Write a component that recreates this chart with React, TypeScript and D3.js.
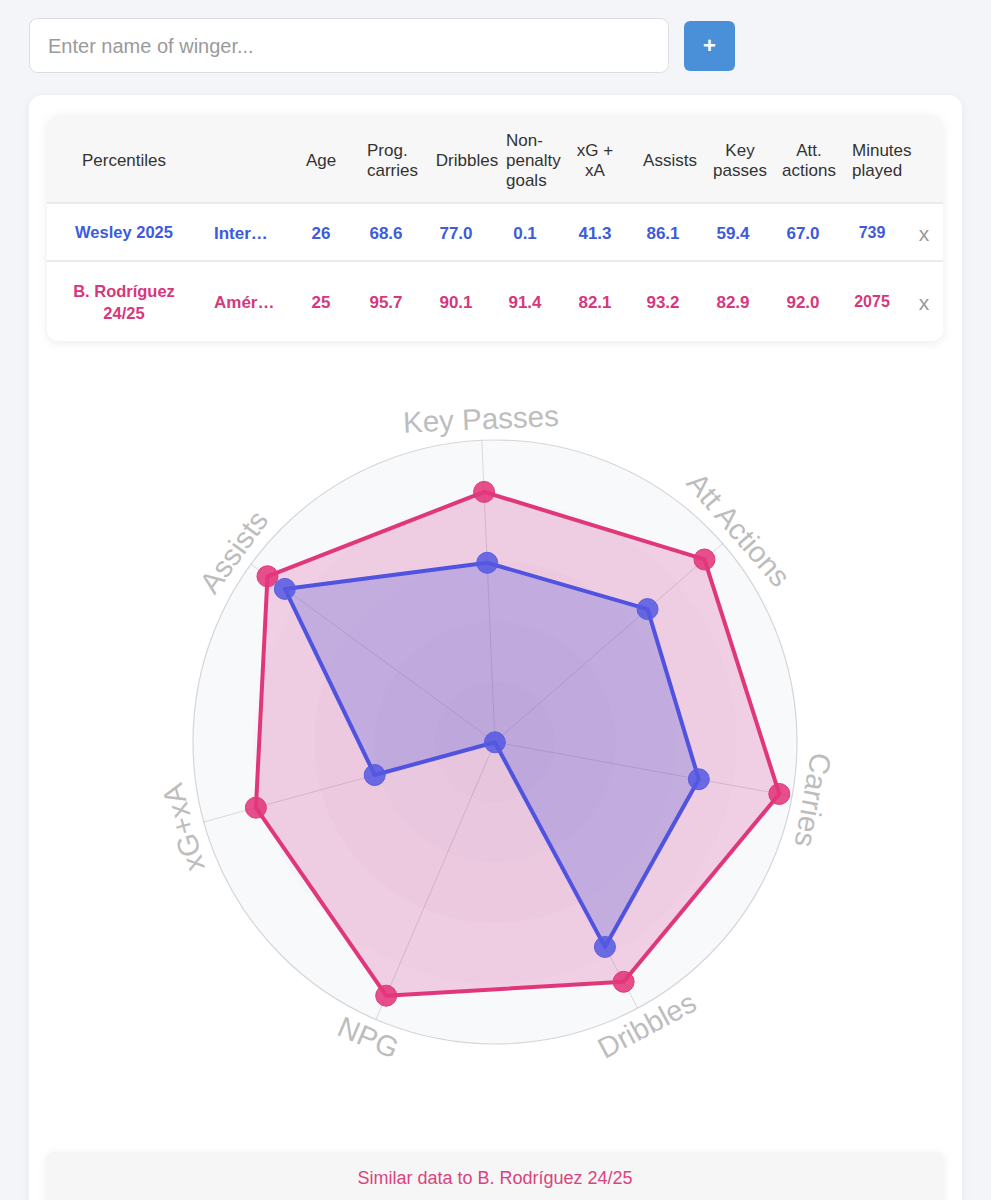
import React from "react";
import * as d3 from "d3";

// ---------- data ----------
const radarAxes = ["Key Passes", "Att Actions", "Carries", "Dribbles", "NPG", "xG+xA", "Assists"];
const wesleyRadar = [59.4, 67.0, 68.6, 77.0, 0.1, 41.3, 86.1];
const rodriguezRadar = [82.9, 92.0, 95.7, 90.1, 91.4, 82.1, 93.2];

const headerLines = [
  ["Percentiles"],
  [],
  ["Age"],
  ["Prog.", "carries"],
  ["Dribbles"],
  ["Non-", "penalty", "goals"],
  ["xG +", "xA"],
  ["Assists"],
  ["Key", "passes"],
  ["Att.", "actions"],
  ["Minutes", "played"],
];

const wesleyRow = { name: ["Wesley 2025"], team: "Inter…", age: "26", minutes: "739" };
const wesleyValues = ["68.6", "77.0", "0.1", "41.3", "86.1", "59.4", "67.0"];
const rodriguezRow = { name: ["B. Rodríguez", "24/25"], team: "Amér…", age: "25", minutes: "2075" };
const rodriguezValues = ["95.7", "90.1", "91.4", "82.1", "93.2", "82.9", "92.0"];

const placeholderText = "Enter name of winger...";
const similarText = "Similar data to B. Rodríguez 24/25";

// ---------- layout ----------
const W = 991;
const H = 1200;
const FONT = "'Liberation Sans', Arial, Helvetica, sans-serif";
const BLUE = "#3d5bdc";
const PINK = "#d6387b";

const headerX = [124, 0, 321, 367, 467, 506, 595, 670, 740, 809, 852];
const headerAnchor = ["middle", "middle", "middle", "start", "middle", "start", "middle", "middle", "middle", "middle", "start"];
const valueX = [386, 456, 525, 595, 663, 733, 803];

const cx = 495;
const cy = 742;
const R = 302;
const rotationDeg = -2.5;

export default function App() {
  const n = radarAxes.length;
  const r = d3.scaleLinear().domain([0, 100]).range([0, R]);
  const angle = d3
    .scaleLinear()
    .domain([0, n])
    .range([(rotationDeg * Math.PI) / 180, (rotationDeg * Math.PI) / 180 + 2 * Math.PI]);

  const radial = d3
    .lineRadial<number>()
    .angle((_d, i) => angle(i))
    .radius((d) => r(d))
    .curve(d3.curveLinearClosed);

  const pt = (v: number, i: number) => {
    const a = angle(i);
    return [r(v) * Math.sin(a), -r(v) * Math.cos(a)];
  };

  const rings = [60, 120, 180, 240].map((v) => (v / 300) * 100);

  const headerBase = (count: number) => {
    if (count === 1) return [166];
    if (count === 2) return [156, 176];
    return [146, 166, 186];
  };

  const renderRow = (row: any, values: string[], color: string, baseY: number, nameYs: number[]) => (
    <g fontFamily={FONT} fontWeight="bold" fill={color}>
      {row.name.map((t: string, i: number) => (
        <text key={i} x={124} y={nameYs[i]} textAnchor="middle" fontSize={16.5}>
          {t}
        </text>
      ))}
      <text x={214} y={baseY} fontSize={17}>
        {row.team}
      </text>
      <text x={321} y={baseY} textAnchor="middle" fontSize={17}>
        {row.age}
      </text>
      {values.map((v, i) => (
        <text key={i} x={valueX[i]} y={baseY} textAnchor="middle" fontSize={17}>
          {v}
        </text>
      ))}
      <text x={872} y={baseY - 1} textAnchor="middle" fontSize={16}>
        {row.minutes}
      </text>
      <text x={924} y={baseY + 2} textAnchor="middle" fontSize={21} fontWeight="normal" fill="#999">
        x
      </text>
    </g>
  );

  return (
    <svg
      width={W}
      height={H}
      viewBox={`0 0 ${W} ${H}`}
      style={{ position: "absolute", left: 0, top: 0, display: "block" }}
    >
      <defs>
        <filter id="cardShadow" x="-5%" y="-5%" width="110%" height="120%">
          <feDropShadow dx="0" dy="2" stdDeviation="4" floodColor="#000" floodOpacity="0.06" />
        </filter>
        <filter id="tableShadow" x="-5%" y="-10%" width="110%" height="130%">
          <feDropShadow dx="0" dy="2" stdDeviation="5" floodColor="#000" floodOpacity="0.08" />
        </filter>
        <clipPath id="tableClip">
          <rect x={47} y={115} width={896} height={226} rx={12} />
        </clipPath>
      </defs>

      <rect x={0} y={0} width={W} height={H} fill="#f4f5f9" />

      {/* input */}
      <rect x={29.5} y={18.5} width={639} height={54} rx={8} fill="#fff" stroke="#dcdde0" />
      <text x={48} y={53} fontFamily={FONT} fontSize={20} fill="#9a9a9a">
        {placeholderText}
      </text>
      <rect x={684} y={21} width={51} height={50} rx={6} fill="#4a90d9" />
      <text x={709.5} y={53} textAnchor="middle" fontFamily={FONT} fontSize={22} fontWeight="bold" fill="#fff">
        +
      </text>

      {/* main card */}
      <rect x={29} y={95} width={933} height={1150} rx={14} fill="#fff" filter="url(#cardShadow)" />

      {/* table card */}
      <rect x={47} y={115} width={896} height={226} rx={12} fill="#fff" filter="url(#tableShadow)" />
      <g clipPath="url(#tableClip)">
        <rect x={47} y={115} width={896} height={88} fill="#f7f7f7" />
      </g>
      <line x1={47} x2={943} y1={203} y2={203} stroke="#e4e4e4" strokeWidth={1.5} />
      <line x1={47} x2={943} y1={261} y2={261} stroke="#e4e4e4" strokeWidth={1.5} />

      <g fontFamily={FONT} fontSize={17} fill="#333">
        {headerLines.map((lines, ci) => {
          const ys = headerBase(lines.length);
          return lines.map((t, li) => (
            <text key={`${ci}-${li}`} x={headerX[ci]} y={ys[li]} textAnchor={headerAnchor[ci] as any}>
              {t}
            </text>
          ));
        })}
      </g>

      {renderRow(wesleyRow, wesleyValues, BLUE, 238.5, [238])}
      {renderRow(rodriguezRow, rodriguezValues, PINK, 308, [297, 319])}

      {/* radar */}
      <g transform={`translate(${cx},${cy})`}>
        <circle r={R} fill="#f8f9fb" stroke="#d6d6d9" strokeWidth={1.2} />
        {rings.map((v, i) => (
          <circle key={i} r={r(v)} fill="rgba(40,20,80,0.013)" />
        ))}
        {radarAxes.map((_a, i) => {
          const [x, y] = pt(100, i);
          return <line key={i} x1={0} y1={0} x2={x} y2={y} stroke="rgba(0,0,0,0.13)" strokeWidth={1} />;
        })}

        <path d={radial(rodriguezRadar) || ""} fill="rgba(214,56,140,0.22)" stroke="#e0377b" strokeWidth={4} strokeLinejoin="round" />
        {rodriguezRadar.map((v, i) => {
          const [x, y] = pt(v, i);
          return <circle key={i} cx={x} cy={y} r={10.5} fill="rgba(226,55,123,0.88)" stroke="#e0377b" strokeWidth={1} />;
        })}

        <path d={radial(wesleyRadar) || ""} fill="rgba(85,95,220,0.28)" stroke="#5052e0" strokeWidth={4} strokeLinejoin="round" />
        {wesleyRadar.map((v, i) => {
          const [x, y] = pt(v, i);
          return <circle key={i} cx={x} cy={y} r={10.5} fill="rgba(85,88,226,0.85)" stroke="#5a5ee2" strokeWidth={1} />;
        })}

        {radarAxes.map((label, i) => {
          const deg = (angle(i) * 180) / Math.PI;
          const norm = ((deg % 360) + 360) % 360;
          const flip = norm > 120 && norm < 240;
          if (flip) {
            return (
              <text
                key={label}
                transform={`rotate(${deg}) translate(0,${-(R + 8)}) rotate(180)`}
                textAnchor="middle"
                dy="0.74em"
                fontFamily={FONT}
                fontSize={29}
                fill="#bdbdbd"
              >
                {label}
              </text>
            );
          }
          return (
            <text
              key={label}
              transform={`rotate(${deg}) translate(0,${-(R + 11)})`}
              textAnchor="middle"
              fontFamily={FONT}
              fontSize={29.5}
              fill="#bdbdbd"
            >
              {label}
            </text>
          );
        })}
      </g>

      {/* similar box */}
      <rect x={47} y={1152} width={896} height={80} rx={6} fill="#f6f6f7" filter="url(#tableShadow)" />
      <text x={495} y={1184} textAnchor="middle" fontFamily={FONT} fontSize={18} fill="#d9447f">
        {similarText}
      </text>
    </svg>
  );
}
